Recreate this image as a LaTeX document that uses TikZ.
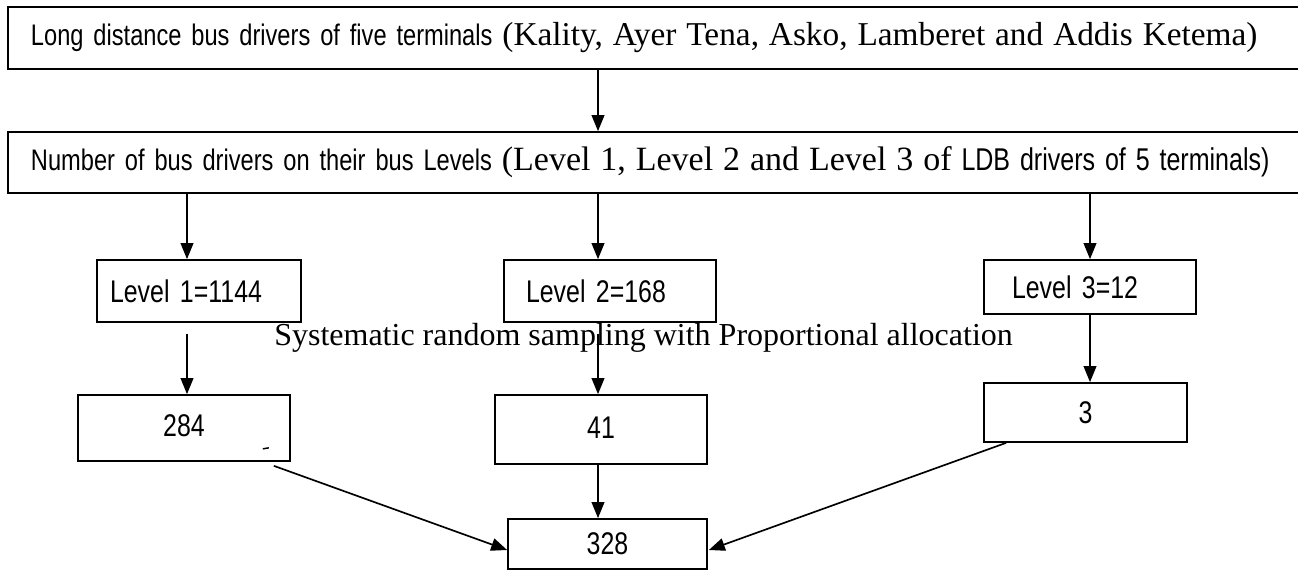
\documentclass[tikz,border=0pt]{standalone}
\usepackage{fontspec}
\setmainfont{Liberation Serif}
\newfontfamily\nsans[FakeStretch=0.795]{Liberation Sans}
\usetikzlibrary{arrows.meta,calc}
\newcommand{\srf}[2][25pt]{{\rmfamily\fontsize{#1}{28pt}\selectfont #2}}
\tikzset{
  box/.style={draw, line width=1.25pt, inner sep=0pt, font=\nsans\fontsize{23.5pt}{27pt}\selectfont},
  wide/.style={box, font=\nsans\fontsize{22.3pt}{27pt}\selectfont, minimum width=976.5pt, text width=942pt, inner xsep=17.25pt, align=left},
  lbox/.style={box, align=left},
  arr/.style={line width=1.25pt, -{Triangle[length=12pt,width=9.5pt]}},
}
\begin{document}
\begin{tikzpicture}[x=0.75pt,y=-0.75pt]
\clip (0,0) rectangle (1298,570);
\fill[white] (0,0) rectangle (1298,570);
% columns
\coordinate (c1) at (187,0);
\coordinate (c2) at (598,0);
\coordinate (c3) at (1090,0);
% top boxes
\node[wide, minimum height=46.5pt] (top) at (659,38)
  {\mbox{Long distance bus drivers of five terminals \srf{(Kality, Ayer Tena, Asko, Lamberet and Addis Ketema)}}};
\node[wide, minimum height=45.75pt] (lev) at (659,162.5)
  {\mbox{Number of bus drivers on their bus Levels \srf[25.5pt]{(Level 1, Level 2 and Level 3 of} {\fontsize{23.6pt}{27pt}\selectfont LDB drivers of 5 terminals)}}};
% level boxes
\node[lbox, minimum height=46.5pt, text width=133.5pt, inner xsep=9.75pt] (L1) at (199,291) {Level 1=1144};
\node[lbox, minimum height=46.5pt, text width=126pt, inner xsep=16.5pt] (L2) at (610,291) {Level 2=168};
\node[lbox, minimum height=40.5pt, text width=117pt, inner xsep=21pt] (L3) at (1090,287) {Level 3=12};
% caption
\node[anchor=base west, inner sep=0pt, font=\fontsize{24pt}{28pt}\selectfont] (cap) at (274,345)
  {Systematic random sampling with Proportional allocation};
% sample boxes
\node[box, minimum width=159pt, minimum height=49.5pt] (n284) at (184,428) {\raisebox{3pt}{284}};
\node[box, minimum width=159pt, minimum height=51.75pt] (n41) at (601,429.5) {\raisebox{3pt}{41}};
\node[box, minimum width=152.25pt, minimum height=44.25pt] (n3) at (1085.5,412.5) {3};
\node[box, minimum width=149.25pt, minimum height=37.5pt] (n328) at (607.5,544) {\raisebox{-3pt}{328}};
% stray mark
\draw[line width=1.1pt] ($(n284.south east)+(-28,-13)$) -- ($(n284.south east)+(-22,-14)$);
% connectors
\draw[arr] (c2 |- top.south) -- (c2 |- lev.north);
\draw[arr] (c1 |- lev.south) -- (c1 |- L1.north);
\draw[arr] (c2 |- lev.south) -- (c2 |- L2.north);
\draw[arr] (c3 |- lev.south) -- (c3 |- L3.north);
\draw[arr, shorten <=8.25pt] (c1 |- L1.south) -- (c1 |- n284.north);
\draw[arr, shorten <=8.25pt] (c2 |- L2.south) -- (c2 |- n41.north);
\draw[arr] (c3 |- L3.south) -- (c3 |- n3.north);
\draw[arr] (c2 |- n41.south) -- (c2 |- n328.north);
\draw[arr] ($(n284.south east)+(-17,4)$) -- ($(n328.west)+(0,6)$);
\draw[arr] ($(n3.south west)+(23,0)$) -- ($(n328.east)+(1,6)$);
\end{tikzpicture}
\end{document}
